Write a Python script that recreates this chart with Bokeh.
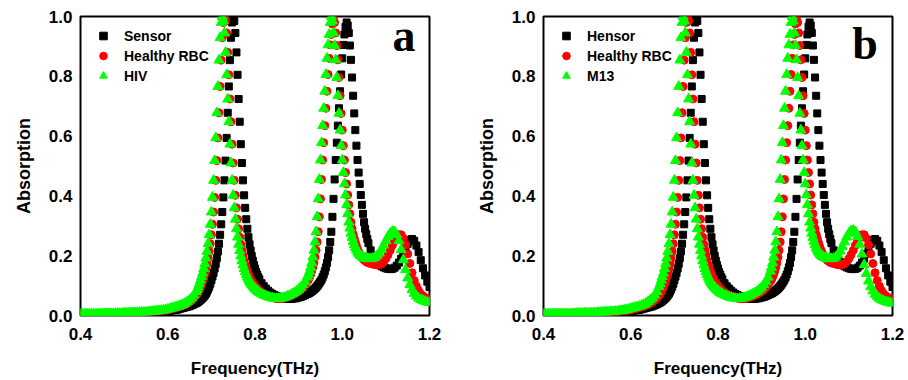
import numpy as np
from bokeh.plotting import figure
from bokeh.layouts import row
from bokeh.models import (Legend, LegendItem, FixedTicker, Label, Range1d,
                          NumeralTickFormatter, ColumnDataSource)
from bokeh.embed import file_html
from bokeh.resources import INLINE

# frequency sampling grid (THz), 0.005 THz step
freq = np.round(np.arange(0.400, 1.2001, 0.005), 4)
# extra half-step samples across the two steep resonances
freq_mid = np.round(np.concatenate([np.arange(0.6675, 0.8076, 0.005),
                                    np.arange(0.9225, 1.0576, 0.005)]), 4)

x_ticks = [0.4, 0.6, 0.8, 1.0, 1.2]
y_ticks = [0.0, 0.2, 0.4, 0.6, 0.8, 1.0]

# Sensor / Hensor (black squares) - same curve in both panels
sensor = [
    0.004, 0.004, 0.004, 0.004, 0.004, 0.004, 0.004, 0.005, 0.005, 0.005,
    0.005, 0.005, 0.005, 0.005, 0.005, 0.006, 0.006, 0.006, 0.006, 0.006,
    0.006, 0.007, 0.007, 0.007, 0.007, 0.008, 0.008, 0.008, 0.009, 0.009,
    0.009, 0.010, 0.010, 0.011, 0.011, 0.011, 0.012, 0.013, 0.013, 0.014,
    0.015, 0.016, 0.017, 0.018, 0.019, 0.021, 0.023, 0.025, 0.027, 0.029,
    0.031, 0.034, 0.037, 0.041, 0.046, 0.052, 0.059, 0.068, 0.080, 0.096,
    0.118, 0.142, 0.173, 0.214, 0.270, 0.346, 0.452, 0.594, 0.766, 0.929,
    0.995, 0.945, 0.805, 0.648, 0.510, 0.402, 0.322, 0.262, 0.217, 0.183,
    0.157, 0.137, 0.121, 0.108, 0.098, 0.090, 0.083, 0.077, 0.072, 0.068,
    0.065, 0.062, 0.060, 0.058, 0.057, 0.056, 0.056, 0.056, 0.057, 0.058,
    0.060, 0.062, 0.065, 0.068, 0.072, 0.076, 0.081, 0.087, 0.094, 0.103,
    0.114, 0.128, 0.148, 0.176, 0.218, 0.280, 0.390, 0.520, 0.635, 0.750,
    0.860, 0.940, 0.980, 0.945, 0.855, 0.735, 0.620, 0.520, 0.440, 0.370,
    0.312, 0.272, 0.242, 0.218, 0.200, 0.188, 0.178, 0.171, 0.165, 0.161,
    0.158, 0.156, 0.155, 0.156, 0.160, 0.167, 0.177, 0.190, 0.206, 0.224,
    0.240, 0.252, 0.256, 0.250, 0.234, 0.212, 0.185, 0.158, 0.134, 0.113,
    0.095,
]
sensor_mid = [
    0.0435, 0.049, 0.0555, 0.063, 0.073, 0.087, 0.106, 0.130, 0.157, 0.192,
    0.240, 0.305, 0.395, 0.518, 0.678, 0.854, 0.980, 0.985, 0.880, 0.724,
    0.573, 0.452, 0.360, 0.290, 0.238, 0.199, 0.169, 0.146, 0.128,
    0.074, 0.0785, 0.084, 0.090, 0.098, 0.108, 0.120, 0.137, 0.161, 0.195,
    0.246, 0.330, 0.455, 0.578, 0.693, 0.806, 0.905, 0.966, 0.970, 0.903,
    0.796, 0.676, 0.568, 0.478, 0.403, 0.340, 0.290, 0.256,
]

# Healthy RBC (red circles)
healthy_rbc = [
    0.004, 0.004, 0.004, 0.005, 0.005, 0.005, 0.005, 0.005, 0.005, 0.005,
    0.005, 0.006, 0.006, 0.006, 0.006, 0.006, 0.006, 0.007, 0.007, 0.007,
    0.007, 0.008, 0.008, 0.008, 0.009, 0.009, 0.009, 0.010, 0.010, 0.011,
    0.011, 0.011, 0.012, 0.013, 0.013, 0.014, 0.015, 0.016, 0.017, 0.018,
    0.019, 0.021, 0.023, 0.025, 0.027, 0.029, 0.031, 0.034, 0.037, 0.041,
    0.046, 0.052, 0.059, 0.068, 0.080, 0.096, 0.118, 0.142, 0.173, 0.214,
    0.270, 0.346, 0.452, 0.594, 0.766, 0.929, 0.995, 0.945, 0.805, 0.648,
    0.510, 0.402, 0.322, 0.262, 0.217, 0.183, 0.157, 0.137, 0.121, 0.108,
    0.098, 0.090, 0.083, 0.077, 0.072, 0.068, 0.065, 0.062, 0.060, 0.058,
    0.057, 0.056, 0.057, 0.058, 0.060, 0.062, 0.065, 0.068, 0.072, 0.076,
    0.081, 0.087, 0.094, 0.103, 0.114, 0.128, 0.148, 0.176, 0.218, 0.280,
    0.390, 0.520, 0.635, 0.750, 0.860, 0.940, 0.990, 0.945, 0.855, 0.735,
    0.620, 0.520, 0.440, 0.370, 0.312, 0.272, 0.245, 0.222, 0.206, 0.194,
    0.186, 0.180, 0.176, 0.174, 0.172, 0.170, 0.169, 0.170, 0.173, 0.180,
    0.190, 0.203, 0.218, 0.235, 0.250, 0.263, 0.270, 0.270, 0.258, 0.236,
    0.206, 0.174, 0.143, 0.117, 0.098, 0.083, 0.072, 0.065, 0.060, 0.057,
    0.055,
]
healthy_rbc_mid = [
    0.073, 0.087, 0.106, 0.130, 0.157, 0.192, 0.240, 0.305, 0.395, 0.518,
    0.678, 0.854, 0.980, 0.985, 0.880, 0.724, 0.573, 0.452, 0.360, 0.290,
    0.238, 0.199, 0.169, 0.146, 0.128, 0.114, 0.103, 0.094, 0.086,
    0.120, 0.137, 0.161, 0.195, 0.246, 0.330, 0.455, 0.578, 0.693, 0.806,
    0.905, 0.975, 0.980, 0.903, 0.796, 0.676, 0.568, 0.478, 0.403, 0.340,
    0.290, 0.258, 0.233, 0.213, 0.200, 0.190, 0.183, 0.178,
]

# HIV (green triangles, panel a)
hiv = [
    0.004, 0.004, 0.005, 0.005, 0.005, 0.005, 0.005, 0.005, 0.005, 0.005,
    0.006, 0.006, 0.006, 0.006, 0.006, 0.006, 0.007, 0.007, 0.007, 0.007,
    0.008, 0.008, 0.008, 0.009, 0.009, 0.009, 0.010, 0.010, 0.011, 0.011,
    0.011, 0.012, 0.013, 0.013, 0.014, 0.015, 0.016, 0.017, 0.018, 0.019,
    0.021, 0.023, 0.025, 0.027, 0.029, 0.031, 0.034, 0.037, 0.041, 0.046,
    0.052, 0.059, 0.068, 0.080, 0.096, 0.118, 0.142, 0.173, 0.214, 0.270,
    0.346, 0.452, 0.594, 0.766, 0.929, 1.000, 0.945, 0.805, 0.648, 0.510,
    0.402, 0.322, 0.262, 0.217, 0.183, 0.157, 0.137, 0.121, 0.108, 0.098,
    0.090, 0.083, 0.077, 0.072, 0.068, 0.065, 0.062, 0.060, 0.058, 0.057,
    0.056, 0.057, 0.058, 0.060, 0.062, 0.065, 0.068, 0.072, 0.076, 0.081,
    0.087, 0.094, 0.103, 0.114, 0.128, 0.148, 0.176, 0.218, 0.280, 0.390,
    0.520, 0.635, 0.750, 0.860, 0.940, 1.000, 0.945, 0.855, 0.735, 0.620,
    0.520, 0.440, 0.370, 0.312, 0.275, 0.248, 0.228, 0.213, 0.203, 0.197,
    0.193, 0.191, 0.190, 0.190, 0.191, 0.194, 0.200, 0.209, 0.221, 0.235,
    0.250, 0.264, 0.275, 0.281, 0.280, 0.270, 0.250, 0.220, 0.186, 0.153,
    0.125, 0.103, 0.086, 0.074, 0.065, 0.058, 0.053, 0.050, 0.047, 0.045,
    0.043,
]
hiv_mid = [
    0.087, 0.106, 0.130, 0.157, 0.192, 0.240, 0.305, 0.395, 0.518, 0.678,
    0.854, 0.980, 0.985, 0.880, 0.724, 0.573, 0.452, 0.360, 0.290, 0.238,
    0.199, 0.169, 0.146, 0.128, 0.114, 0.103, 0.094, 0.086, 0.080,
    0.137, 0.161, 0.195, 0.246, 0.330, 0.455, 0.578, 0.693, 0.806, 0.905,
    0.980, 0.985, 0.903, 0.796, 0.676, 0.568, 0.478, 0.403, 0.340, 0.292,
    0.261, 0.237, 0.220, 0.208, 0.200, 0.195, 0.192, 0.190,
]

# M13 (green triangles, panel b)
m13 = [
    0.004, 0.005, 0.005, 0.005, 0.005, 0.005, 0.005, 0.005, 0.005, 0.006,
    0.006, 0.006, 0.006, 0.006, 0.006, 0.007, 0.007, 0.007, 0.007, 0.008,
    0.008, 0.008, 0.009, 0.009, 0.009, 0.010, 0.010, 0.011, 0.011, 0.011,
    0.012, 0.013, 0.013, 0.014, 0.015, 0.016, 0.017, 0.018, 0.019, 0.021,
    0.023, 0.025, 0.027, 0.029, 0.031, 0.034, 0.037, 0.041, 0.046, 0.052,
    0.059, 0.068, 0.080, 0.096, 0.118, 0.142, 0.173, 0.214, 0.270, 0.346,
    0.452, 0.594, 0.766, 0.929, 1.000, 0.945, 0.805, 0.648, 0.510, 0.402,
    0.322, 0.262, 0.217, 0.183, 0.157, 0.137, 0.121, 0.108, 0.098, 0.090,
    0.083, 0.077, 0.072, 0.068, 0.065, 0.062, 0.060, 0.058, 0.057, 0.056,
    0.057, 0.058, 0.060, 0.062, 0.065, 0.068, 0.072, 0.076, 0.081, 0.087,
    0.094, 0.103, 0.114, 0.128, 0.148, 0.176, 0.218, 0.280, 0.390, 0.520,
    0.635, 0.750, 0.860, 0.940, 1.000, 0.945, 0.855, 0.735, 0.620, 0.520,
    0.440, 0.370, 0.312, 0.275, 0.248, 0.228, 0.213, 0.203, 0.197, 0.193,
    0.191, 0.190, 0.190, 0.191, 0.195, 0.203, 0.215, 0.230, 0.246, 0.262,
    0.275, 0.283, 0.285, 0.280, 0.264, 0.238, 0.205, 0.170, 0.140, 0.115,
    0.096, 0.082, 0.071, 0.063, 0.057, 0.052, 0.049, 0.046, 0.044, 0.042,
    0.041,
]
m13_mid = [
    0.106, 0.130, 0.157, 0.192, 0.240, 0.305, 0.395, 0.518, 0.678, 0.854,
    0.980, 0.985, 0.880, 0.724, 0.573, 0.452, 0.360, 0.290, 0.238, 0.199,
    0.169, 0.146, 0.128, 0.114, 0.103, 0.094, 0.086, 0.080, 0.0745,
    0.161, 0.195, 0.246, 0.330, 0.455, 0.578, 0.693, 0.806, 0.905, 0.980,
    0.985, 0.903, 0.796, 0.676, 0.568, 0.478, 0.403, 0.340, 0.292, 0.261,
    0.237, 0.220, 0.208, 0.200, 0.195, 0.192, 0.190, 0.190,
]

labels_a = ["Sensor", "Healthy RBC", "HIV"]
labels_b = ["Hensor", "Healthy RBC", "M13"]

SANS = "Liberation Sans"
x_all = list(freq) + list(freq_mid)


def make_panel(tag, names, green, green_mid, border_left, border_right, tag_x, tag_y):
    p = figure(frame_width=349, frame_height=299,
               x_range=Range1d(0.4, 1.2), y_range=Range1d(0.0, 1.0),
               output_backend="svg", toolbar_location=None,
               min_border_left=border_left, min_border_right=border_right,
               min_border_top=16, min_border_bottom=65,
               background_fill_color="white", border_fill_color="white")
    p.xgrid.grid_line_color = None
    p.ygrid.grid_line_color = None
    p.outline_line_color = "black"
    p.outline_line_width = 2
    p.outline_line_alpha = 1.0

    p.xaxis.ticker = FixedTicker(ticks=x_ticks)
    p.yaxis.ticker = FixedTicker(ticks=y_ticks)
    p.axis.formatter = NumeralTickFormatter(format="0.0")
    p.axis.axis_line_color = None
    p.axis.major_tick_in = 0
    p.axis.major_tick_out = 0
    p.axis.minor_tick_in = 0
    p.axis.minor_tick_out = 0
    p.axis.major_label_text_font = SANS
    p.axis.major_label_text_font_style = "bold"
    p.axis.major_label_text_font_size = "17px"
    p.axis.major_label_text_color = "black"
    p.xaxis.major_label_standoff = 12
    p.yaxis.major_label_standoff = 8
    p.axis.axis_label_text_font = SANS
    p.axis.axis_label_text_font_style = "bold"
    p.axis.axis_label_text_color = "black"
    p.xaxis.axis_label = "Frequency(THz)"
    p.xaxis.axis_label_text_font_size = "17px"
    p.xaxis.axis_label_standoff = 16
    p.yaxis.axis_label = "Absorption"
    p.yaxis.axis_label_text_font_size = "18px"
    p.yaxis.axis_label_standoff = 12

    src_k = ColumnDataSource(dict(x=x_all, y=list(sensor) + list(sensor_mid)))
    src_r = ColumnDataSource(dict(x=x_all, y=list(healthy_rbc) + list(healthy_rbc_mid)))
    src_g = ColumnDataSource(dict(x=x_all, y=list(green) + list(green_mid)))

    r_k = p.scatter("x", "y", source=src_k, marker="square", size=7,
                    fill_color="black", line_color="black")
    r_r = p.scatter("x", "y", source=src_r, marker="circle", size=8,
                    fill_color="#ff0000", line_color="#ff0000")
    r_g = p.scatter("x", "y", source=src_g, marker="triangle", size=10,
                    fill_color="#00ff00", line_color="#00ff00")

    legend = Legend(items=[LegendItem(label=names[0], renderers=[r_k]),
                           LegendItem(label=names[1], renderers=[r_r]),
                           LegendItem(label=names[2], renderers=[r_g])],
                    location="top_left", margin=10, padding=0,
                    glyph_width=26, glyph_height=19, label_height=19,
                    spacing=1, label_standoff=8,
                    border_line_color=None, background_fill_alpha=0.0,
                    label_text_font=SANS, label_text_font_style="bold",
                    label_text_font_size="14px", label_text_color="black")
    p.add_layout(legend)

    p.add_layout(Label(x=tag_x, y=tag_y, text=tag,
                       text_font="Liberation Serif", text_font_style="bold",
                       text_font_size="46px", text_color="black",
                       text_baseline="alphabetic"))
    return p


pa = make_panel("a", labels_a, hiv, hiv_mid, 80, 25, 1.115, 0.935)
pb = make_panel("b", labels_b, m13, m13_mid, 89, 16, 1.108, 0.91)

layout = row(pa, pb)
open("out.html", "w").write(file_html(layout, INLINE))
